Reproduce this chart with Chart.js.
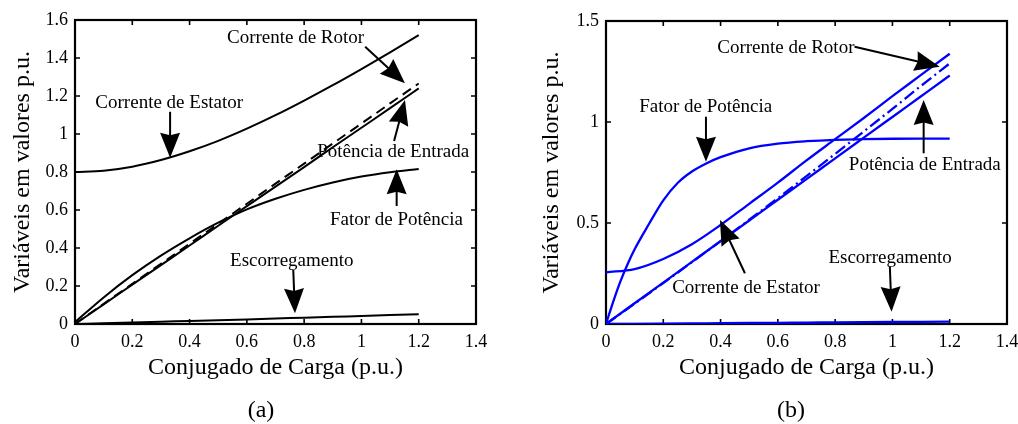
<!DOCTYPE html>
<html>
<head>
<meta charset="utf-8">
<script src="https://cdn.jsdelivr.net/npm/chart.js@4.4.1/dist/chart.umd.min.js"></script>
<style>
  html, body { margin: 0; padding: 0; background: #ffffff; }
  #wrap { position: relative; width: 1018px; height: 424px; overflow: hidden; }
  canvas { position: absolute; top: 0; }
</style>
</head>
<body>
<div id="wrap">
  <canvas id="chartA" width="509" height="424" style="left:0px"></canvas>
  <canvas id="chartB" width="509" height="424" style="left:509px"></canvas>
</div>
<script>
// Load torque (p.u.) sampled along the horizontal axis
const loadTorque = [0, 0.1, 0.2, 0.3, 0.4, 0.5, 0.6, 0.7, 0.8, 0.9, 1.0, 1.1, 1.2];
const loadTorqueFine = [0, 0.025, 0.05, 0.075, 0.1, 0.15, 0.2, 0.25, 0.3, 0.35, 0.4, 0.5, 0.6, 0.7, 0.8, 0.9, 1.0, 1.1, 1.2];

// Panel (a)
const statorCurrentA = [0.800, 0.807, 0.828, 0.863, 0.909, 0.964, 1.028, 1.099, 1.176, 1.257, 1.342, 1.430, 1.520];
const rotorCurrentA  = [0.000, 0.106, 0.211, 0.317, 0.422, 0.528, 0.633, 0.739, 0.844, 0.950, 1.055, 1.161, 1.266];
const inputPowerA    = [0.000, 0.103, 0.207, 0.310, 0.413, 0.517, 0.620, 0.723, 0.826, 0.930, 1.033, 1.136, 1.240];
const powerFactorA   = [0.010, 0.140, 0.257, 0.360, 0.451, 0.533, 0.603, 0.659, 0.706, 0.745, 0.776, 0.799, 0.816];
const slipA          = [0.000, 0.004, 0.008, 0.012, 0.016, 0.020, 0.024, 0.029, 0.033, 0.038, 0.042, 0.047, 0.051];

// Panel (b)
const statorCurrentB = [0.256, 0.272, 0.322, 0.395, 0.490, 0.595, 0.700, 0.810, 0.915, 1.020, 1.128, 1.233, 1.338];
const rotorCurrentB  = [0.000, 0.101, 0.203, 0.306, 0.410, 0.516, 0.623, 0.732, 0.842, 0.953, 1.065, 1.179, 1.290];
const inputPowerB    = [0.000, 0.1025, 0.205, 0.3075, 0.410, 0.5125, 0.615, 0.7175, 0.820, 0.9225, 1.025, 1.1275, 1.230];
const powerFactorB   = [0.000, 0.110, 0.210, 0.295, 0.370, 0.495, 0.612, 0.698, 0.755, 0.795, 0.826, 0.870, 0.893, 0.905, 0.912, 0.915, 0.917, 0.918, 0.918];
const slipB          = [0.000, 0.001, 0.002, 0.003, 0.004, 0.005, 0.006, 0.007, 0.008, 0.009, 0.010, 0.011, 0.012];

// Tick values
const xTicks  = [0, 0.2, 0.4, 0.6, 0.8, 1, 1.2, 1.4];
const yTicksA = [0, 0.2, 0.4, 0.6, 0.8, 1, 1.2, 1.4, 1.6];
const yTicksB = [0, 0.5, 1, 1.5];

// Text labels with pointer arrows, placed in data coordinates
const notesA = [
  { text: 'Corrente de Estator', at: [0.329, 1.138], from: [0.332, 1.117], to: [0.332, 0.875] },
  { text: 'Corrente de Rotor',   at: [0.770, 1.479], from: [1.013, 1.459], to: [1.152, 1.267] },
  { text: 'Potência de Entrada', at: [1.111, 0.881], from: [1.114, 0.963], to: [1.152, 1.179] },
  { text: 'Fator de Potência',   at: [1.122, 0.521], from: [1.123, 0.621], to: [1.123, 0.815] },
  { text: 'Escorregamento',      at: [0.757, 0.305], from: [0.762, 0.284], to: [0.768, 0.056] }
];
const notesB = [
  { text: 'Corrente de Rotor',   at: [0.628, 1.342], from: [0.868, 1.373], to: [1.165, 1.274] },
  { text: 'Fator de Potência',   at: [0.348, 1.048], from: [0.349, 1.026], to: [0.349, 0.803] },
  { text: 'Potência de Entrada', at: [1.113, 0.762], from: [1.109, 0.845], to: [1.109, 1.109] },
  { text: 'Corrente de Estator', at: [0.489, 0.155], from: [0.485, 0.251], to: [0.398, 0.515] },
  { text: 'Escorregamento',      at: [0.992, 0.300], from: [0.991, 0.284], to: [0.997, 0.061] }
];

const SERIF = "'Liberation Serif', 'Times New Roman', serif";
Chart.defaults.font.family = SERIF;
Chart.defaults.color = '#000000';

function points(xs, ys) {
  return xs.map((x, i) => ({ x: x, y: ys[i] }));
}

function fmt(v) {
  return String(Math.round(v * 10) / 10);
}

// Filled arrow head with a shallow notched back
function drawArrow(ctx, x0, y0, x1, y1) {
  const L = 25, W = 10;
  const a = Math.atan2(y1 - y0, x1 - x0);
  const ux = Math.cos(a), uy = Math.sin(a);
  const px = -uy, py = ux;
  ctx.save();
  ctx.strokeStyle = '#000';
  ctx.fillStyle = '#000';
  ctx.lineWidth = 2;
  ctx.beginPath();
  ctx.moveTo(x0, y0);
  ctx.lineTo(x1 - ux * L * 0.85, y1 - uy * L * 0.85);
  ctx.stroke();
  ctx.beginPath();
  ctx.moveTo(x1, y1);
  ctx.lineTo(x1 - ux * L + px * W, y1 - uy * L + py * W);
  ctx.lineTo(x1 - ux * L * 0.9, y1 - uy * L * 0.9);
  ctx.lineTo(x1 - ux * L - px * W, y1 - uy * L - py * W);
  ctx.closePath();
  ctx.fill();
  ctx.restore();
}

// Axes box with inward tick marks, labels with arrows, and the panel caption
const boxPlugin = {
  id: 'boxPlugin',
  beforeDatasetsDraw(chart) {
    const { ctx, chartArea: ca, scales } = chart;
    ctx.save();
    ctx.strokeStyle = '#000';
    ctx.lineWidth = 1.6;
    const t = 5;
    scales.x.ticks.forEach(tk => {
      const px = scales.x.getPixelForValue(tk.value);
      ctx.beginPath();
      ctx.moveTo(px, ca.bottom); ctx.lineTo(px, ca.bottom - t);
      ctx.moveTo(px, ca.top); ctx.lineTo(px, ca.top + t);
      ctx.stroke();
    });
    scales.y.ticks.forEach(tk => {
      const py = scales.y.getPixelForValue(tk.value);
      ctx.beginPath();
      ctx.moveTo(ca.left, py); ctx.lineTo(ca.left + t, py);
      ctx.moveTo(ca.right, py); ctx.lineTo(ca.right - t, py);
      ctx.stroke();
    });
    ctx.lineWidth = 2.2;
    ctx.strokeRect(ca.left, ca.top, ca.right - ca.left, ca.bottom - ca.top);
    ctx.restore();
  },
  afterDraw(chart, args, opts) {
    const { ctx, scales } = chart;
    const X = v => scales.x.getPixelForValue(v);
    const Y = v => scales.y.getPixelForValue(v);
    ctx.save();
    (opts.notes || []).forEach(n => {
      drawArrow(ctx, X(n.from[0]), Y(n.from[1]), X(n.to[0]), Y(n.to[1]));
    });
    ctx.fillStyle = '#000';
    ctx.font = '19px ' + SERIF;
    ctx.textAlign = 'center';
    ctx.textBaseline = 'alphabetic';
    (opts.notes || []).forEach(n => {
      ctx.fillText(n.text, X(n.at[0]), Y(n.at[1]));
    });
    if (opts.caption) {
      ctx.font = '24px ' + SERIF;
      ctx.fillText(opts.caption, opts.captionX, 417);
    }
    ctx.restore();
  }
};

function buildChart(id, datasets, yMax, yTicks, cfg) {
  const fixTicks = values => scale => { scale.ticks = values.map(v => ({ value: v })); };
  return new Chart(document.getElementById(id), {
    type: 'line',
    data: { datasets: datasets },
    plugins: [boxPlugin],
    options: {
      responsive: false,
      animation: false,
      events: [],
      layout: { padding: { left: 0, top: cfg.top, right: cfg.right, bottom: 40 } },
      elements: { point: { radius: 0 }, line: { cubicInterpolationMode: 'monotone', borderCapStyle: 'butt' } },
      plugins: {
        legend: { display: false },
        tooltip: { enabled: false },
        boxPlugin: { notes: cfg.notes, caption: cfg.caption, captionX: cfg.captionX }
      },
      scales: {
        x: {
          type: 'linear', min: 0, max: 1.4,
          afterBuildTicks: fixTicks(xTicks),
          afterFit: s => { s.height = 60; s.paddingLeft = 0; s.paddingRight = 0; },
          grid: { display: false, drawTicks: false },
          border: { display: false },
          ticks: { padding: 7.6, font: { size: 18 }, color: '#000', callback: v => fmt(v), maxRotation: 0 },
          title: { display: true, text: 'Conjugado de Carga (p.u.)', font: { size: 24 }, color: '#000', padding: { top: 0, bottom: 1.7 } }
        },
        y: {
          type: 'linear', min: 0, max: yMax,
          afterBuildTicks: fixTicks(yTicks),
          afterFit: s => { s.width = cfg.yWidth; s.paddingTop = 0; s.paddingBottom = 0; },
          grid: { display: false, drawTicks: false },
          border: { display: false },
          ticks: { padding: 7, font: { size: 18 }, color: '#000', callback: v => fmt(v) },
          title: { display: true, text: 'Variáveis em valores p.u.', font: { size: 24 }, color: '#000', padding: { top: cfg.yTitlePad, bottom: 0 } }
        }
      }
    }
  });
}

const black = '#000000';
const blue = '#0000ff';

buildChart('chartA', [
  { data: points(loadTorque, statorCurrentA), borderColor: black, borderWidth: 2 },
  { data: points(loadTorque, inputPowerA), borderColor: black, borderWidth: 2 },
  { data: points(loadTorque, rotorCurrentA), borderColor: black, borderWidth: 2, borderDash: [10, 6] },
  { data: points(loadTorque, powerFactorA), borderColor: black, borderWidth: 2 },
  { data: points(loadTorque, slipA), borderColor: black, borderWidth: 2 }
], 1.6, yTicksA, { top: 20, right: 33, yWidth: 75, yTitlePad: 8.5, notes: notesA, caption: '(a)', captionX: 261 });

buildChart('chartB', [
  { data: points(loadTorque, statorCurrentB), borderColor: blue, borderWidth: 2.3 },
  { data: points(loadTorque, inputPowerB), borderColor: blue, borderWidth: 2.3 },
  { data: points(loadTorque, rotorCurrentB), borderColor: blue, borderWidth: 2.3, borderDash: [12, 4, 2, 4] },
  { data: points(loadTorqueFine, powerFactorB), borderColor: blue, borderWidth: 2.3 },
  { data: points(loadTorque, slipB), borderColor: blue, borderWidth: 2.3 }
], 1.5, yTicksB, { top: 21, right: 11, yWidth: 97, yTitlePad: 28.5, notes: notesB, caption: '(b)', captionX: 282 });
</script>
</body>
</html>
